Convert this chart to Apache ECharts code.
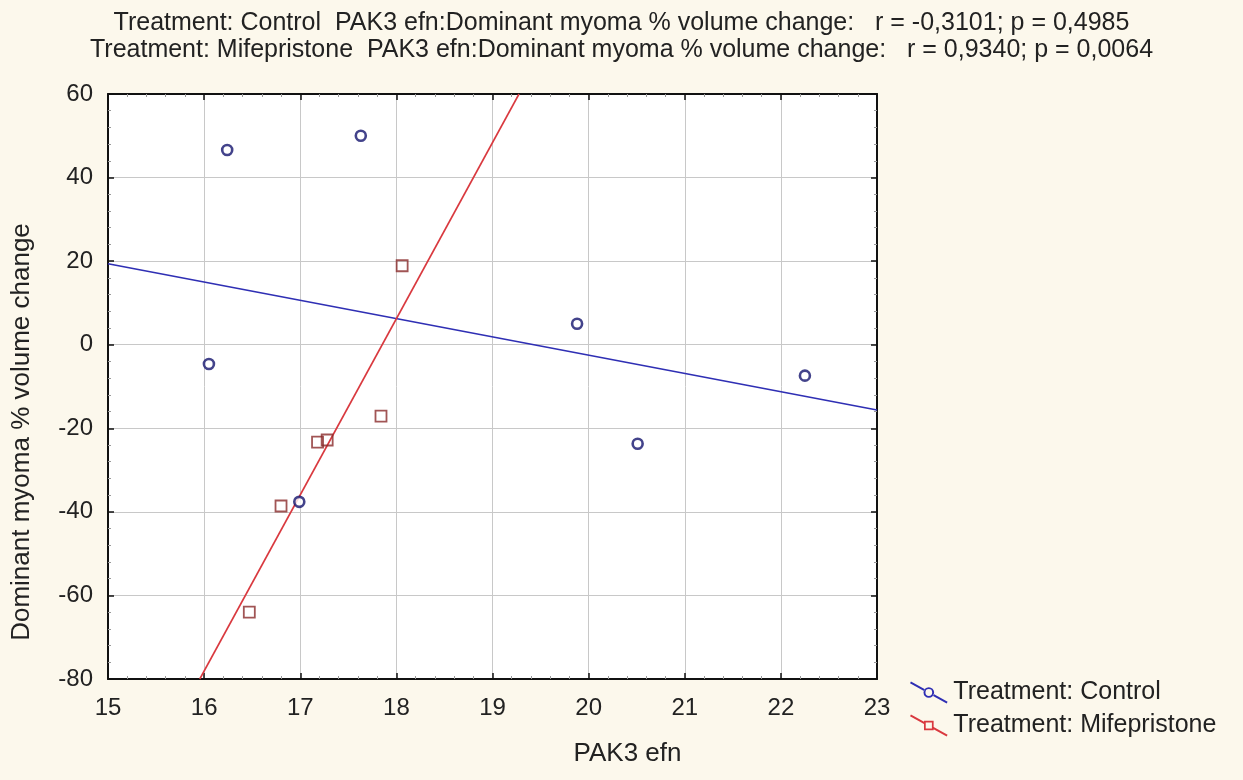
<!DOCTYPE html>
<html>
<head>
<meta charset="utf-8">
<script src="https://cdn.jsdelivr.net/npm/echarts@6/dist/echarts.min.js"></script>
<style>
html,body{margin:0;padding:0;background:#fcf8ec;}
#chart{width:1243px;height:780px;}
</style>
</head>
<body>
<div id="chart"></div>
<script>
// 数据
var controlX = [16.24, 17.63, 16.05, 16.99, 19.88, 20.51, 22.25];
var controlY = [46.6, 50.0, -4.6, -37.6, 5.0, -23.7, -7.4];
var mifeX = [17.84, 17.18, 17.28, 16.80, 16.47, 18.06];
var mifeY = [-17.1, -23.3, -22.8, -38.6, -64.0, 18.9];

var xMin = 15, xMax = 23, yMin = -80, yMax = 60;
var titleLines = [
  'Treatment: Control  PAK3 efn:Dominant myoma % volume change:   r = -0,3101; p = 0,4985',
  'Treatment: Mifepristone  PAK3 efn:Dominant myoma % volume change:   r = 0,9340; p = 0,0064'
];

function pairs(xs, ys) {
  var out = [];
  for (var i = 0; i < xs.length; i++) out.push([xs[i], ys[i]]);
  return out;
}

// least squares fit, clipped to the plot box
function fitLine(xs, ys) {
  var n = xs.length, mx = 0, my = 0, sxy = 0, sxx = 0;
  for (var i = 0; i < n; i++) { mx += xs[i]; my += ys[i]; }
  mx /= n; my /= n;
  for (var j = 0; j < n; j++) {
    sxy += (xs[j] - mx) * (ys[j] - my);
    sxx += (xs[j] - mx) * (xs[j] - mx);
  }
  var b = sxy / sxx, a = my - b * mx;
  var x1 = xMin, x2 = xMax;
  var xa = (yMin - a) / b, xb = (yMax - a) / b;
  var lo = Math.min(xa, xb), hi = Math.max(xa, xb);
  x1 = Math.max(x1, lo); x2 = Math.min(x2, hi);
  return [[x1, a + b * x1], [x2, a + b * x2]];
}

var blue = '#2f2fb4', navy = '#14146e', red = '#d9393f', brown = '#8a2a2a';
var font = 'Liberation Sans';

var circleIcon = 'path://M0.5,-0.9 L15,7.2 L14,9 L-0.5,0.9 Z M24,12 L38.5,20.1 L37.5,21.9 L23,13.8 Z ' +
  'M13.5,10.5 A5.5,5.5 0 1,0 24.5,10.5 A5.5,5.5 0 1,0 13.5,10.5 Z M15.5,10.5 A3.5,3.5 0 1,1 22.5,10.5 A3.5,3.5 0 1,1 15.5,10.5 Z';
var rectIcon = 'path://M0.5,-0.9 L15,7.2 L14,9 L-0.5,0.9 Z M24,12 L38.5,20.1 L37.5,21.9 L23,13.8 Z ' +
  'M14,5.5 L24,5.5 L24,15.5 L14,15.5 Z M15.8,7.3 L15.8,13.7 L22.2,13.7 L22.2,7.3 Z';

function axisBase(pos, isX) {
  return {
    type: 'value',
    position: pos,
    min: isX ? xMin : yMin,
    max: isX ? xMax : yMax,
    interval: isX ? 1 : 20,
    axisLine: { show: true, onZero: false, lineStyle: { color: '#111', width: 2 } },
    axisTick: { show: true, inside: true, length: 6, lineStyle: { color: '#111', width: 1.5 } },
    minorTick: { show: true, splitNumber: 5, length: 3, lineStyle: { color: '#999', width: 1 } },
    splitLine: { show: false },
    axisLabel: { show: false }
  };
}

var xBottom = axisBase('bottom', true);
xBottom.splitLine = { show: true, lineStyle: { color: '#c8c8c8', width: 1 } };
xBottom.axisLabel = { show: true, fontFamily: font, fontSize: 24, color: '#222', margin: 17 };
xBottom.name = 'PAK3 efn';
xBottom.nameLocation = 'middle';
xBottom.nameGap = 62;
xBottom.nameTextStyle = { fontFamily: font, fontSize: 26, color: '#222', padding: [0, 0, 0, 270] };
var xTop = axisBase('top', true);

var yLeft = axisBase('left', false);
yLeft.splitLine = { show: true, lineStyle: { color: '#c8c8c8', width: 1 } };
yLeft.axisLabel = { show: true, fontFamily: font, fontSize: 24, color: '#222', margin: 15 };
yLeft.name = 'Dominant myoma % volume change';
yLeft.nameLocation = 'middle';
yLeft.nameGap = 73;
yLeft.nameTextStyle = { fontFamily: font, fontSize: 26, color: '#222', padding: [0, 91, 0, 0] };
var yRight = axisBase('right', false);

var myChart = echarts.init(document.getElementById('chart'));
var option = {
  backgroundColor: '#fcf8ec',
  animation: false,
  title: {
    text: titleLines.join('\n'),
    left: 'center',
    top: 5,
    textStyle: { fontFamily: font, fontSize: 25, lineHeight: 27, fontWeight: 'normal', color: '#222' }
  },
  legend: {
    orient: 'vertical',
    left: 910,
    top: 680,
    padding: 0,
    itemGap: 8,
    itemWidth: 39,
    itemHeight: 22,
    textStyle: { fontFamily: font, fontSize: 25, color: '#222' },
    data: [
      { name: 'Treatment: Control', icon: circleIcon, itemStyle: { color: blue, borderWidth: 0 } },
      { name: 'Treatment: Mifepristone', icon: rectIcon, itemStyle: { color: red, borderWidth: 0 } }
    ]
  },
  grid: { left: 108, top: 94, right: 366, bottom: 101, show: true, backgroundColor: '#ffffff', borderWidth: 0 },
  xAxis: [xBottom, xTop],
  yAxis: [yLeft, yRight],
  series: [
    {
      name: 'Treatment: Control',
      type: 'line',
      data: fitLine(controlX, controlY),
      showSymbol: false,
      symbol: 'none',
      lineStyle: { color: blue, width: 1.6 },
      z: 2
    },
    {
      name: 'Treatment: Mifepristone',
      type: 'line',
      data: fitLine(mifeX, mifeY),
      showSymbol: false,
      symbol: 'none',
      lineStyle: { color: red, width: 1.6 },
      z: 2
    },
    {
      name: 'Treatment: Control',
      type: 'scatter',
      data: pairs(controlX, controlY),
      symbol: 'circle',
      symbolSize: 10,
      itemStyle: { color: '#ffffff', borderColor: navy, borderWidth: 2.6 },
      z: 4
    },
    {
      name: 'Treatment: Mifepristone',
      type: 'scatter',
      data: pairs(mifeX, mifeY),
      symbol: 'rect',
      symbolSize: 11,
      itemStyle: { color: 'rgba(255,255,255,0)', borderColor: brown, borderWidth: 1.8 },
      z: 3
    }
  ]
};
myChart.setOption(option);
</script>
</body>
</html>
